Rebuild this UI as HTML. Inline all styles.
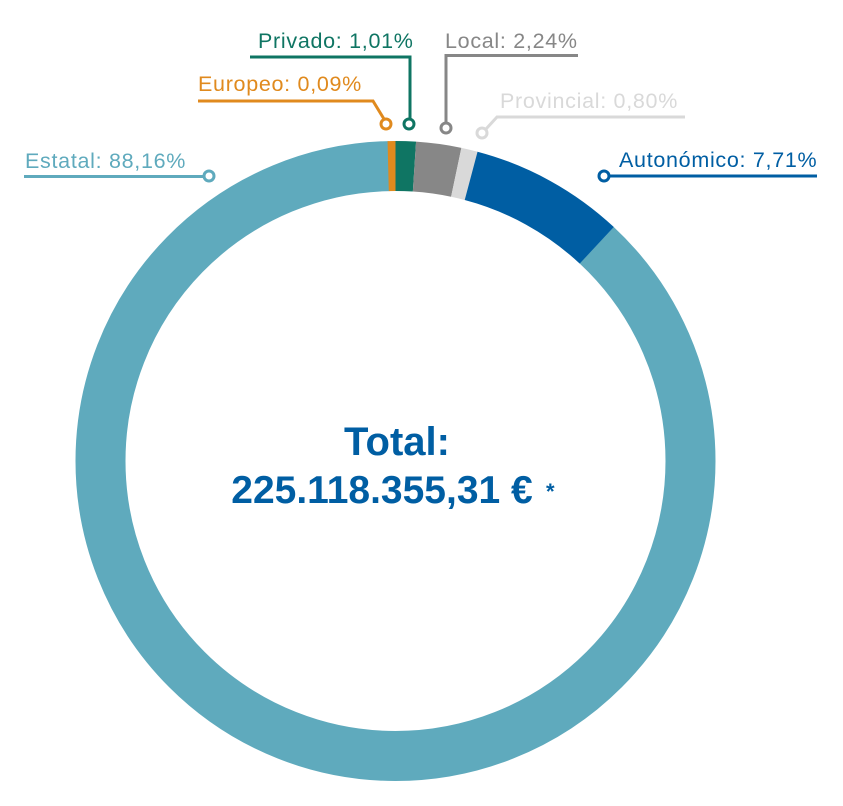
<!DOCTYPE html>
<html><head><meta charset="utf-8"><style>
html,body{margin:0;padding:0;background:#fff;}
svg{display:block}
text{font-family:"Liberation Sans",sans-serif;}
</style></head><body>
<svg width="843" height="806" viewBox="0 0 843 806" xmlns="http://www.w3.org/2000/svg">
<g transform="translate(395.5,461) rotate(-90)" fill="none" stroke-width="50">
<circle r="295" stroke="#5faabd" stroke-dasharray="1625.5 1853.5" stroke-dashoffset="-221.4"/>
<circle r="295" stroke="#e08a1e" stroke-dasharray="8 1853.5" stroke-dashoffset="-1846"/>
<circle r="295" stroke="#0f7563" stroke-dasharray="19 1853.5" stroke-dashoffset="0"/>
<circle r="295" stroke="#878787" stroke-dasharray="42.2 1853.5" stroke-dashoffset="-19"/>
<circle r="295" stroke="#d9d9d9" stroke-dasharray="15.5 1853.5" stroke-dashoffset="-61.2"/>
<circle r="295" stroke="#005ea3" stroke-dasharray="145 1853.5" stroke-dashoffset="-76.5"/>
</g>
<g fill="#fff" stroke-width="3">
<polyline points="24,176.5 204,176.5" stroke="#5faabd" fill="none"/>
<circle cx="209" cy="176" r="5" stroke="#5faabd"/>
<polyline points="198,101 373,101 384,119" stroke="#e08a1e" fill="none"/>
<circle cx="386" cy="124" r="5" stroke="#e08a1e"/>
<polyline points="250,57 410,57 410,119" stroke="#0f7563" fill="none"/>
<circle cx="409" cy="124" r="5" stroke="#0f7563"/>
<polyline points="578,55.5 446,55.5 446,122" stroke="#878787" fill="none"/>
<circle cx="446" cy="128" r="5" stroke="#878787"/>
<polyline points="685,117 497,117 486,129" stroke="#d9d9d9" fill="none"/>
<circle cx="482" cy="133" r="5" stroke="#d9d9d9"/>
<polyline points="609,176 817,176" stroke="#005ea3" fill="none"/>
<circle cx="604" cy="176" r="5" stroke="#005ea3"/>
</g>
<g font-size="21.5" letter-spacing="0.7">
<text x="25" y="168" fill="#5faabd">Estatal: 88,16%</text>
<text x="198" y="91" fill="#e08a1e">Europeo: 0,09%</text>
<text x="258" y="48" fill="#0f7563">Privado: 1,01%</text>
<text x="445" y="48" fill="#878787">Local: 2,24%</text>
<text x="500" y="108" fill="#d9d9d9">Provincial: 0,80%</text>
<text x="619" y="167" fill="#005ea3">Autonómico: 7,71%</text>
</g>
<g fill="#005ea3" font-weight="bold">
<text x="397" y="455" font-size="40" text-anchor="middle">Total:</text>
<text x="382" y="503" font-size="39" text-anchor="middle">225.118.355,31 €</text>
<text x="546" y="499" font-size="22">*</text>
</g>
</svg>
</body></html>
